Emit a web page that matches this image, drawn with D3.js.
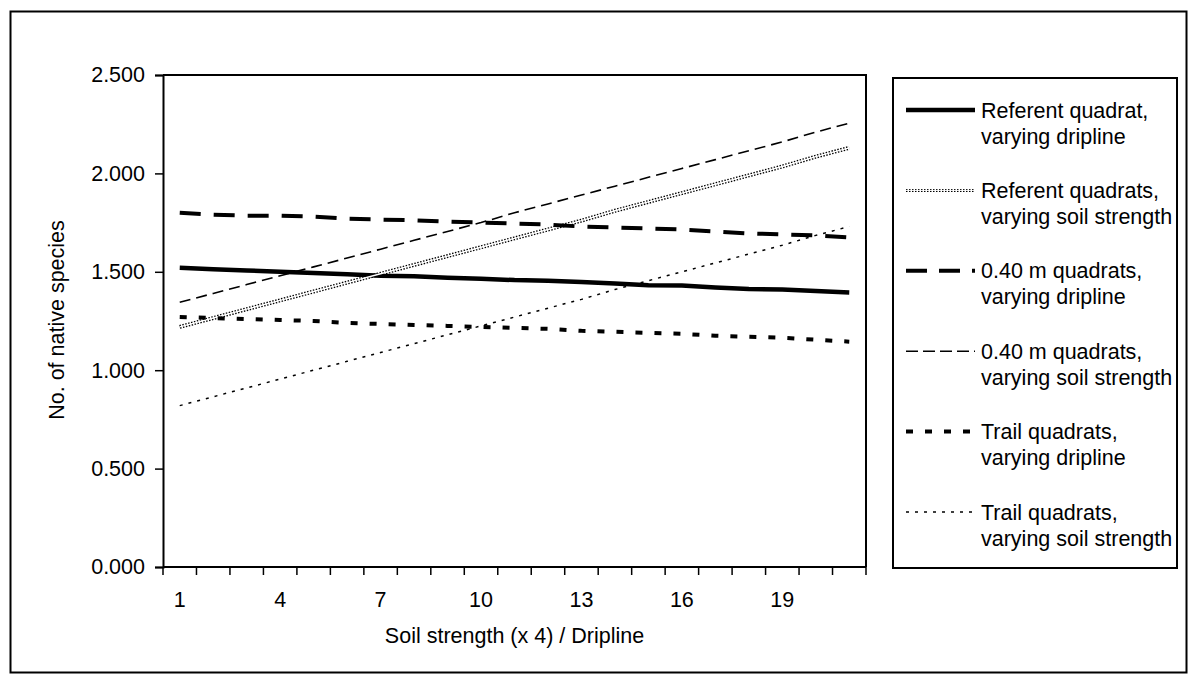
<!DOCTYPE html>
<html><head><meta charset="utf-8">
<script src="https://cdn.jsdelivr.net/npm/d3@7"></script>
<style>body{margin:0;background:#fff}svg{display:block;font-family:Arial,"Liberation Sans",sans-serif}</style>
</head><body><svg id="c" width="1200" height="685"></svg>
<script>
const categories = d3.range(1, 22).map(String);
const xTickLabels = ["1","4","7","10","13","16","19"];
const yTicks = [0, 0.5, 1.0, 1.5, 2.0, 2.5];
const seriesNames = [
  ["Referent quadrat,", "varying dripline"],
  ["Referent quadrats,", "varying soil strength"],
  ["0.40 m quadrats,", "varying dripline"],
  ["0.40 m quadrats,", "varying soil strength"],
  ["Trail quadrats,", "varying dripline"],
  ["Trail quadrats,", "varying soil strength"]
];
const referentDripline = [1.520,1.513,1.507,1.500,1.494,1.487,1.480,1.478,1.470,1.465,1.458,1.455,1.448,1.440,1.432,1.430,1.420,1.412,1.410,1.402,1.395];
const referentSoil = [1.220,1.265,1.310,1.355,1.400,1.445,1.490,1.535,1.580,1.625,1.670,1.715,1.760,1.810,1.855,1.900,1.945,1.990,2.035,2.085,2.130];
const m040Dripline = [1.800,1.790,1.785,1.785,1.780,1.770,1.765,1.762,1.755,1.750,1.745,1.740,1.730,1.725,1.720,1.715,1.705,1.695,1.690,1.685,1.675];
const m040Soil = [1.345,1.390,1.435,1.480,1.525,1.570,1.615,1.660,1.705,1.750,1.800,1.845,1.890,1.935,1.980,2.025,2.070,2.115,2.160,2.210,2.255];
const trailDripline = [1.270,1.265,1.260,1.255,1.250,1.240,1.235,1.230,1.225,1.220,1.215,1.210,1.200,1.195,1.190,1.185,1.175,1.170,1.165,1.155,1.145];
const trailSoil = [0.820,0.865,0.910,0.955,1.000,1.045,1.090,1.135,1.180,1.225,1.270,1.315,1.360,1.410,1.455,1.500,1.545,1.590,1.635,1.685,1.730];
const seriesValues = [referentDripline, referentSoil, m040Dripline, m040Soil, trailDripline, trailSoil];

const styles = [
  {w:4.5, dash:null},
  {w:4, dash:"1.5,1.5", inner:true},
  {w:4, dash:"21,13"},
  {w:1.6, dash:"11,6"},
  {w:4, dash:"7,12"},
  {w:1.5, dash:"3,6"}
];
const legendStyles = [
  {w:4.5, dash:null},
  {w:3, dash:"1.5,1.5", inner:true},
  {w:4, dash:"21,12"},
  {w:1.6, dash:"12,5"},
  {w:4, dash:"7,12"},
  {w:1.5, dash:"3,6"}
];

const svg = d3.select("#c");
const FS = 21.5;
// outer border
svg.append("rect").attr("x",10.5).attr("y",11.5).attr("width",1176).attr("height",661)
  .attr("fill","none").attr("stroke","#000").attr("stroke-width",2);

const L = 163, R = 866, T = 75, B = 567;
const x = d3.scaleBand().domain(categories).range([L, R]);
const y = d3.scaleLinear().domain([0, 2.5]).range([B, T]);

// plot frame (top & right)
svg.append("path").attr("d",`M${L},${T}H${R}V${B}`).attr("fill","none").attr("stroke","#000").attr("stroke-width",2);

// y axis
const yAxis = svg.append("g").attr("transform",`translate(${L},0)`)
  .call(d3.axisLeft(y).tickValues(yTicks).tickFormat(d3.format(".3f")).tickSize(8).tickPadding(10));
yAxis.select(".domain").attr("stroke-width",2);
yAxis.selectAll(".tick line").attr("stroke-width",1.5);
yAxis.selectAll("text").attr("font-size",FS).attr("font-family","Arial, 'Liberation Sans', sans-serif").attr("fill","#000");

// x axis: ticks at band boundaries
const xAxisG = svg.append("g").attr("transform",`translate(0,${B})`);
xAxisG.append("line").attr("x1",L).attr("x2",R).attr("stroke","#000").attr("stroke-width",2);
const bounds = categories.map(c => x(c)).concat([R]);
xAxisG.selectAll("line.tk").data(bounds).enter().append("line").attr("class","tk")
  .attr("x1",d=>d).attr("x2",d=>d).attr("y1",0).attr("y2",8).attr("stroke","#000").attr("stroke-width",1.5);
xAxisG.selectAll("text").data(xTickLabels).enter().append("text")
  .attr("x",d=>x(d)+x.bandwidth()/2).attr("y",40).attr("text-anchor","middle")
  .attr("font-size",FS).text(d=>d);

// axis titles
svg.append("text").attr("x",(L+R)/2).attr("y",643).attr("text-anchor","middle").attr("font-size",FS)
  .text("Soil strength (x 4) / Dripline");
svg.append("text").attr("transform","translate(64,320) rotate(-90)").attr("text-anchor","middle").attr("font-size",FS)
  .text("No. of native species");

// lines
const line = d3.line().x((d,i)=>x(categories[i])+x.bandwidth()/2).y(d=>y(d));
const lg = svg.append("g");
seriesValues.forEach((vals,k)=>{
  const s = styles[k];
  const p = lg.append("path").datum(vals).attr("d",line).attr("fill","none").attr("stroke","#000")
    .attr("stroke-width",s.w).attr("stroke-linejoin","round");
  if (s.dash) p.attr("stroke-dasharray",s.dash);
  if (s.inner) lg.append("path").datum(vals).attr("d",line).attr("fill","none").attr("stroke","#fff").attr("stroke-width",1.4);
});

// legend
const LX = 893, LY = 78, LW = 284, LH = 490;
svg.append("rect").attr("x",LX).attr("y",LY).attr("width",LW).attr("height",LH)
  .attr("fill","#fff").attr("stroke","#000").attr("stroke-width",2);
const entryY = d3.scalePoint().domain(d3.range(6)).range([110, 512]);
seriesNames.forEach((nm,k)=>{
  const cy = entryY(k);
  const s = legendStyles[k];
  const p = svg.append("line").attr("x1",906).attr("x2",975).attr("y1",cy).attr("y2",cy)
    .attr("stroke","#000").attr("stroke-width",s.w);
  if (s.dash) p.attr("stroke-dasharray",s.dash);
  if (s.inner) svg.append("line").attr("x1",906).attr("x2",975).attr("y1",cy).attr("y2",cy).attr("stroke","#fff").attr("stroke-width",1);
  const t = svg.append("text").attr("x",981).attr("y",cy+7.5).attr("font-size",FS);
  t.append("tspan").attr("x",981).text(nm[0]);
  t.append("tspan").attr("x",981).attr("dy",26).text(nm[1]);
});
</script></body></html>
